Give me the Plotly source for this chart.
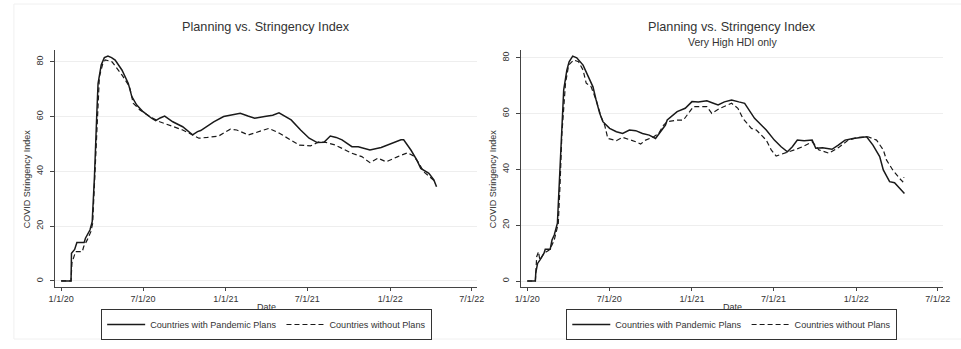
import pandas as pd
import plotly.graph_objects as go
from plotly.subplots import make_subplots

START = pd.Timestamp("2020-01-01")

# ---- Data (day offsets since 1/1/20, index values) ----
all_plan_days = [0, 22, 23, 30, 35, 51, 54, 64, 69, 74, 79, 82, 89, 96, 104, 112, 120, 135, 149, 157, 168, 182,
                 201, 210, 220, 230, 248, 270, 292, 303, 310, 325, 339, 361, 380, 398, 415, 430, 452, 470, 484,
                 497, 511, 532, 551, 569, 584, 598, 611, 624, 646, 660, 686, 711, 733, 755, 761, 777, 790, 799,
                 817, 828, 834]
all_plan_vals = [0, 0, 10.1, 11.5, 14, 14, 15.6, 18.6, 21.6, 38, 60, 72, 78.8, 81.5, 82.1, 81.5, 80.6, 77, 72.2,
                 67.3, 64.2, 61.8, 59.4, 58.5, 59.5, 60.2, 58.1, 56.3, 53.3, 54.5, 54.9, 56.5, 58.1, 60, 60.5,
                 61.2, 60.2, 59.4, 60, 60.5, 61.4, 60.2, 58.8, 55.1, 52.1, 50.5, 50.6, 52.9, 52.4, 51.5, 49, 49,
                 47.8, 48.7, 50.2, 51.5, 51.5, 47.8, 44.2, 41.1, 39.3, 36.9, 34.4]

all_noplan_days = [0, 22, 24, 32, 47, 50, 58, 66, 70, 75, 80, 85, 92, 98, 113, 125, 135, 152, 160, 175, 197, 219,
                   241, 270, 292, 306, 325, 350, 376, 390, 416, 438, 462, 485, 507, 529, 554, 573, 588, 609, 624,
                   646, 668, 686, 704, 722, 748, 770, 783, 795, 805, 820, 832]
all_noplan_vals = [0, 0, 6.6, 10.7, 10.7, 12.5, 15, 18, 21, 38, 60, 74.6, 79, 80.7, 80, 77.5, 75.2, 70.9, 64.9,
                   62.4, 60, 58.1, 56.9, 55.1, 53.3, 52.1, 52.4, 52.9, 55.4, 55.1, 53.3, 54.5, 55.7, 53.9, 51.7,
                   49.6, 49.3, 50.8, 50.6, 49.6, 48.4, 46.6, 45.4, 43.2, 44.8, 43.5, 45.4, 46.8, 45.6, 43, 39.9,
                   38, 36.2]

hdi_plan_days = [0, 18, 19, 23, 28, 37, 40, 51, 55, 60, 67, 71, 75, 81, 88, 93, 101, 110, 124, 135, 146, 153, 161,
                 168, 183, 198, 212, 227, 241, 256, 271, 285, 296, 307, 311, 333, 351, 366, 380, 399, 412, 424,
                 438, 454, 470, 483, 505, 531, 549, 564, 578, 589, 600, 615, 633, 641, 656, 677, 691, 706, 724,
                 740, 754, 768, 783, 791, 805, 816, 830, 838]
hdi_plan_vals = [0, 0, 3, 6.3, 7.5, 9.9, 11.4, 11.4, 14.7, 16.5, 20.7, 35, 52.9, 68.5, 75.6, 78.6, 80.6, 80, 77.4,
                 73.2, 69.6, 64.9, 60.1, 57.1, 54.7, 53.5, 52.9, 54.1, 53.9, 52.9, 52.3, 51.1, 53.5, 55.9, 57.7,
                 60.7, 61.9, 64.3, 64.2, 64.6, 63.8, 63.1, 64.2, 64.9, 64.2, 63.7, 58.3, 54.1, 50.5, 48.1, 46.3,
                 48.1, 50.5, 50.3, 50.5, 47.6, 47.8, 47.2, 48.7, 50.5, 51.1, 51.5, 51.7, 48.7, 44.6, 39.8, 35.6,
                 35.2, 32.6, 31.4]

hdi_noplan_days = [0, 18, 21, 25, 28, 37, 48, 51, 55, 60, 66, 69, 73, 77, 85, 92, 103, 114, 124, 131, 142, 153,
                   164, 172, 179, 198, 212, 227, 241, 252, 263, 281, 292, 303, 311, 333, 347, 358, 369, 399, 410,
                   428, 454, 468, 479, 498, 509, 531, 542, 553, 567, 582, 597, 611, 626, 633, 648, 670, 694, 713,
                   735, 757, 776, 791, 798, 812, 827, 834, 837]
hdi_noplan_vals = [0, 0, 8.7, 10.5, 7.5, 9.9, 11, 11.7, 12.9, 14.7, 18.3, 20.7, 35, 52.9, 70.9, 77.4, 79.2, 78.6,
                   75.6, 70.9, 69.6, 64.9, 58.9, 55.9, 51.1, 50.3, 51.5, 50.8, 49.9, 49.1, 50.5, 51.7, 52.9, 55.9,
                   57.1, 57.7, 57.7, 60.1, 62.5, 62.5, 60.1, 61.9, 63.7, 61.9, 58.3, 54.7, 54.1, 50.5, 47, 44.8,
                   45.5, 46.3, 47.2, 48.1, 49.4, 49.9, 47, 45.8, 48.1, 50.5, 51.5, 51.7, 50.5, 47, 43.4, 39.8, 36.8,
                   35.6, 37.2]

tick_dates = ["2020-01-01", "2020-07-01", "2021-01-01", "2021-07-01", "2022-01-01", "2022-07-01"]
tick_labels = ["1/1/20", "7/1/20", "1/1/21", "7/1/21", "1/1/22", "7/1/22"]
y_ticks = [0, 20, 40, 60, 80]

title_text = "Planning vs. Stringency Index"
subtitle_text = "Very High HDI only"
x_title = "Date"
y_title = "COVID Stringency Index"
legend_names = ["Countries with Pandemic Plans", "Countries without Plans"]


def to_dates(days):
    return [START + pd.Timedelta(days=d) for d in days]


FONT = "Liberation Sans, Arial, Helvetica, sans-serif"
TXT = "#333"
W, H = 961, 349

fig = make_subplots(rows=1, cols=2, horizontal_spacing=0.05)

panels = [
    (1, "legend", all_plan_days, all_plan_vals, all_noplan_days, all_noplan_vals),
    (2, "legend2", hdi_plan_days, hdi_plan_vals, hdi_noplan_days, hdi_noplan_vals),
]
for col, leg, pd_, pv, nd, nv in panels:
    fig.add_trace(go.Scatter(x=to_dates(pd_), y=pv, mode="lines", name=legend_names[0],
                             line=dict(color="#1a1a1a", width=1.5), legend=leg), row=1, col=col)
    fig.add_trace(go.Scatter(x=to_dates(nd), y=nv, mode="lines", name=legend_names[1],
                             line=dict(color="#1a1a1a", width=1.2, dash="5px,3px"), legend=leg), row=1, col=col)

xrange = [START + pd.Timedelta(days=-13), START + pd.Timedelta(days=924)]
ydom = [1 - 287 / H, 1 - 50 / H]
xdoms = [[49 / W, 477 / W], [522 / W, 950 / W]]
yranges = [[-2.2, 84.3], [-2.15, 82.8]]

axis_common = dict(showline=True, linecolor="#444", linewidth=1, ticks="outside",
                   tickcolor="#444", tickfont=dict(size=9, color=TXT, family=FONT), mirror=False)

for i in range(2):
    xa = "xaxis" if i == 0 else "xaxis2"
    ya = "yaxis" if i == 0 else "yaxis2"
    fig.layout[xa].update(domain=xdoms[i], range=xrange, tickvals=tick_dates, ticktext=tick_labels,
                          showgrid=False, zeroline=False, ticklen=3, **axis_common)
    fig.layout[ya].update(domain=ydom, range=yranges[i], tickvals=y_ticks, tickangle=-90,
                          showgrid=True, gridcolor="#eeeeee", gridwidth=1, zeroline=False,
                          ticklen=4, ticklabelstandoff=4, **axis_common)
    xc = (xdoms[i][0] + xdoms[i][1]) / 2
    fig.add_annotation(text=x_title, xref="paper", yref="paper", x=xc, y=1 - 307 / H,
                       xanchor="center", yanchor="middle", showarrow=False,
                       font=dict(size=9, color=TXT, family=FONT))
    fig.add_annotation(text=y_title, xref="paper", yref="paper", x=xdoms[i][0] - 29 / W,
                       y=(ydom[0] + ydom[1]) / 2 - 10 / H,
                       xanchor="center", yanchor="middle", showarrow=False, textangle=-90,
                       font=dict(size=9, color=TXT, family=FONT))

legend_common = dict(orientation="h", xanchor="center", yanchor="middle", y=1 - 324.5 / H,
                     bordercolor="#333", borderwidth=1, bgcolor="white",
                     font=dict(size=9.1, color=TXT, family=FONT), itemwidth=38,
                     tracegroupgap=0)

fig.update_layout(
    width=W, height=H,
    margin=dict(l=0, r=0, t=0, b=0),
    paper_bgcolor="white", plot_bgcolor="white",
    font=dict(family=FONT, color=TXT),
    showlegend=True,
    legend=dict(x=263.5 / W, **legend_common),
    legend2=dict(x=735.5 / W, **legend_common),
)

# titles
fig.add_annotation(text=title_text, xref="paper", yref="paper", x=263 / W, y=1 - 27 / H,
                   xanchor="center", yanchor="middle", showarrow=False,
                   font=dict(size=12.7, color=TXT, family=FONT))
fig.add_annotation(text=title_text, xref="paper", yref="paper", x=736 / W, y=1 - 27 / H,
                   xanchor="center", yanchor="middle", showarrow=False,
                   font=dict(size=12.7, color=TXT, family=FONT))
fig.add_annotation(text=subtitle_text, xref="paper", yref="paper", x=736 / W, y=1 - 42 / H,
                   xanchor="center", yanchor="middle", showarrow=False,
                   font=dict(size=10.5, color=TXT, family=FONT))

# faint outer frame
fig.add_shape(type="rect", xref="paper", yref="paper", x0=7 / W, x1=1.01, y0=1 - 339 / H, y1=1 - 4 / H,
              line=dict(color="#f0f0f0", width=1), layer="below")

fig.write_html("out.html")
